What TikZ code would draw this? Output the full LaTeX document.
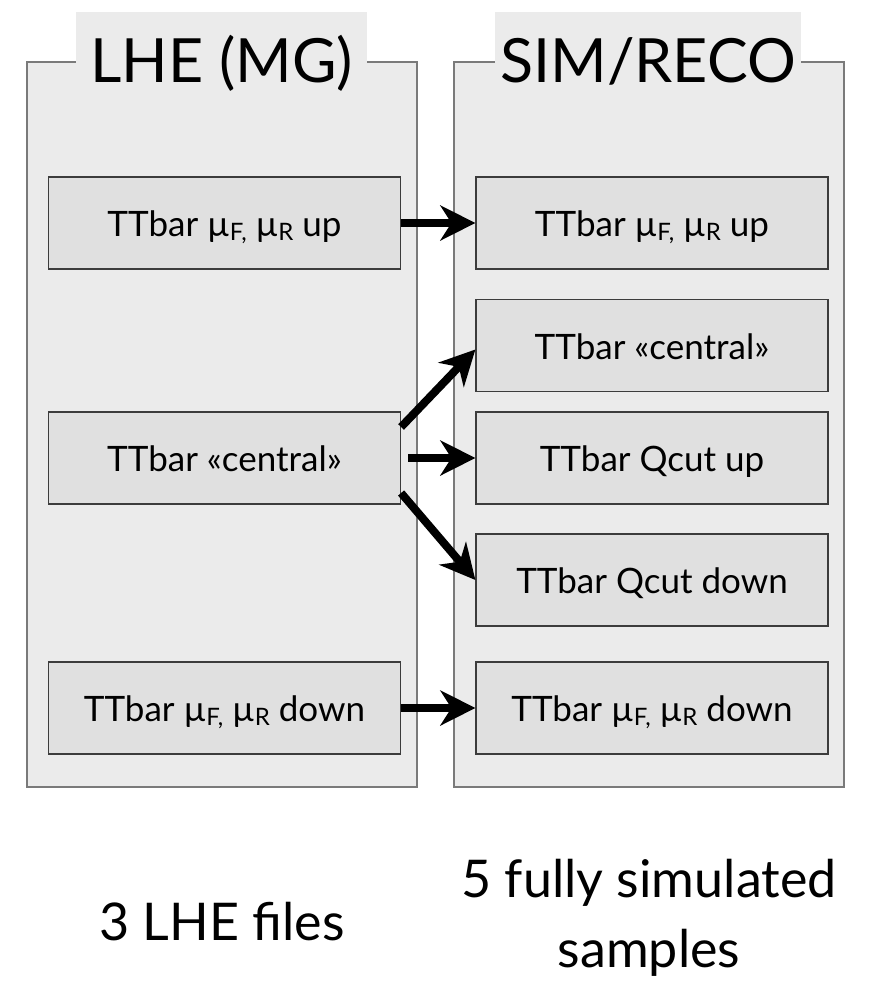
\documentclass[tikz,border=0pt]{standalone}
\usepackage{fontspec}
\setmainfont{Lato}
\usepackage{tikz}
\usetikzlibrary{arrows.meta}
\definecolor{PanelGray}{HTML}{EBEBEB}
\definecolor{BoxGray}{HTML}{E0E0E0}
\definecolor{PanelLine}{HTML}{7A7A7A}
\definecolor{BoxLine}{HTML}{3C3C3C}
\newcommand\muF{µ\raisebox{-0.1em}{\fontsize{24}{24}\selectfont F,}}
\newcommand\muR{µ\raisebox{-0.1em}{\fontsize{24}{24}\selectfont R}}
\newcommand\nodeup{TTbar \muF{} \muR{} up}
\newcommand\nodedown{TTbar \muF{} \muR{} down}
\newcommand\nodecentral{TTbar «central»}
\newcommand\nodequp{TTbar Qcut up}
\newcommand\nodeqdown{TTbar Qcut down}
\tikzstyle{panel} = [rectangle, draw=PanelLine, fill=PanelGray, line width=1.2pt]
\tikzstyle{paneltitle} = [rectangle, fill=PanelGray, minimum width=291pt, minimum height=88pt, text height=52pt, text depth=0pt, font=\fontsize{61}{61}\selectfont]
\tikzstyle{sample} = [rectangle, draw=BoxLine, fill=BoxGray, line width=1.2pt, minimum width=352pt, minimum height=92pt, text height=27pt, text depth=0pt, font=\fontsize{35}{35}\selectfont]
\tikzstyle{summary} = [align=center, font=\fontsize{52}{70}\selectfont]
\tikzset{>={Stealth[length=35pt,width=35pt,inset=11pt]}, flow/.style={->, line width=8pt}}
\begin{document}
\begin{tikzpicture}[x=1pt, y=-1pt]
\useasboundingbox (0,0) rectangle (872,996);
\node[panel, minimum width=390pt, minimum height=725pt] (lhe) at (222, 424.5) {};
\node[panel, minimum width=390pt, minimum height=725pt] (sim) at (649, 424.5) {};
\node[paneltitle] (lhetitle) at (221.5, 56) {LHE (MG)};
\node[paneltitle, minimum width=306pt] (simtitle) at (648, 56) {SIM/RECO};
\node[sample] (lup) at (224.5, 223) {\nodeup};
\node[sample] (lc) at (224.5, 458) {\nodecentral};
\node[sample] (ldown) at (224.5, 708) {\nodedown};
\node[sample] (rup) at (652, 223) {\nodeup};
\node[sample] (rc) at (652, 345.5) {\nodecentral};
\node[sample] (rqup) at (652, 458) {\nodequp};
\node[sample] (rqdown) at (652, 580) {\nodeqdown};
\node[sample] (rdown) at (652, 708) {\nodedown};
\node[summary] (nlhe) at (222, 922) {3 LHE files};
\node[summary] (nsim) at (649, 918) {5 fully simulated\\samples};
\draw [flow] (lup) -- (rup);
\draw [flow] ([yshift=31pt]lc.east) -- ([yshift=-4pt]rc.west);
\draw [flow] ([xshift=7pt]lc.east) -- (rqup);
\draw [flow] ([yshift=-35pt]lc.east) -- (rqdown.west);
\draw [flow] (ldown) -- (rdown);
\end{tikzpicture}
\end{document}
